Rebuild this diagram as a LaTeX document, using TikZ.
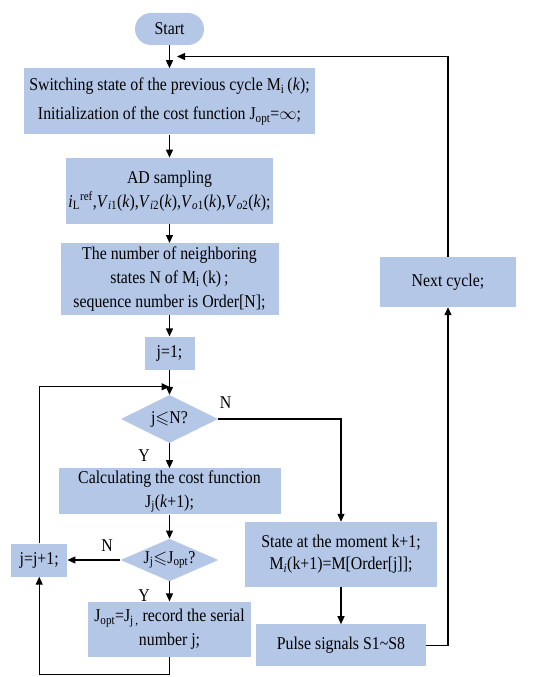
\documentclass[tikz,border=0pt]{standalone}
\usepackage{amssymb}
\usepackage{fontspec}
\setmainfont{Liberation Serif}[FakeStretch=0.88]
\usetikzlibrary{arrows.meta, positioning, shapes.geometric}
\definecolor{boxblue}{RGB}{180,199,231}

\begin{document}
\begin{tikzpicture}
	[
	x=1pt, y=-1pt,
	node distance=23pt and 53pt,
        startBox/.style={
            rectangle,
            rounded corners=16pt,
            fill=boxblue,
            minimum width=69pt,
            minimum height=32pt,
            font=\fontsize{18}{24}\selectfont
        },
        processBox/.style={
            rectangle,
            fill=boxblue,
            align=center,
            inner sep=2pt,
            font=\fontsize{18}{24}\selectfont
        },
        decisionBox/.style={
            diamond,
            fill=boxblue,
            aspect=2.3,
            inner sep=1pt,
            font=\fontsize{18}{24}\selectfont
        },
        branchLabel/.style={
            inner sep=2pt,
            font=\fontsize{18}{24}\selectfont
        },
        flowArrow/.style={
            -{Triangle[length=8pt,width=7pt]},
            line width=1.2pt
        }
    ]
    \useasboundingbox (0,0) rectangle (550,677);

    \node(start) [startBox] at (169.5,29) {Start};
    \node(init) [processBox, minimum width=291pt, minimum height=66pt, font=\fontsize{18}{29}\selectfont, below=of start] {Switching state of the previous cycle M\textsubscript{i}\,(\textit{k});\\Initialization of the cost function J\textsubscript{opt}=$\infty$;};
    \node(sampling) [processBox, minimum width=207pt, minimum height=66pt, below=of init] {AD sampling\\\textit{i}\textsubscript{L}\textsuperscript{ref},\textit{V}\textsubscript{\textit{i}1}(\textit{k}),\textit{V}\textsubscript{\textit{i}2}(\textit{k}),\textit{V}\textsubscript{\textit{o}1}(\textit{k}),\textit{V}\textsubscript{\textit{o}2}(\textit{k});};
    \node(neighbors) [processBox, minimum width=218pt, minimum height=72pt, below=19pt of sampling] {The number of neighboring\\states N of M\textsubscript{i}\,(k)\,;\\sequence number is Order[N];};
    \node(jOne) [processBox, minimum width=50pt, minimum height=33pt, below=21pt of neighbors] {j=1;};
    \node(checkJ) [decisionBox, minimum width=97pt, minimum height=48pt, below=25pt of jOne] {j$\leqslant$N?};
    \node(costFunction) [processBox, minimum width=222pt, minimum height=42pt, below=25pt of checkJ] {Calculating the cost function\\J\textsubscript{j}(\textit{k}+1);};
    \node(checkCost) [decisionBox, minimum width=97pt, minimum height=42pt, below=24pt of costFunction] {J\textsubscript{j}$\leqslant$J\textsubscript{opt}?};
    \node(record) [processBox, minimum width=163pt, minimum height=55pt, below=20pt of checkCost] {J\textsubscript{opt}=J\textsubscript{j\,,} record the serial\\number j;};
    \node(jNext) [processBox, minimum width=56pt, minimum height=33pt, left=of checkCost] {j=j+1;};

    \node(stateNext) [processBox, minimum width=192pt, minimum height=65pt, font=\fontsize{18}{22}\selectfont] at (341,554.5) {State at the moment k+1;\\M\textsubscript{\textit{i}}(k+1)=M[Order[j]];};
    \node(pulses) [processBox, minimum width=170pt, minimum height=42pt, below=37pt of stateNext] {Pulse signals S1\textasciitilde S8};
    \node(nextCycle) [processBox, minimum width=136pt, minimum height=50pt] at (448,282) {Next cycle;};

    \coordinate[below=17pt of jOne] (merge);
    \coordinate[below=18pt of record] (loopEnd);
    \coordinate (backIn) at (177,56.5);

    \draw[flowArrow] (start)--(init);
    \draw[flowArrow] (init)--(sampling);
    \draw[flowArrow] (sampling)--(neighbors);
    \draw[flowArrow] (neighbors)--(jOne);
    \draw[flowArrow] (jOne)--(checkJ);
    \draw[flowArrow] (checkJ)-- node(yesA) [branchLabel, left=17pt] {Y} (costFunction);
    \draw[flowArrow] (costFunction)--(checkCost);
    \draw[flowArrow] (checkCost)-- node(yesB) [branchLabel, pos=0.7, left=17pt] {Y} (record);
    \draw[flowArrow] (checkCost.west)-- node(noB) [branchLabel, pos=0.25, above=6pt] {N} (jNext.east);
    \draw[flowArrow] (jNext.north) |- (merge);
    \draw[flowArrow] (record.south)--(loopEnd) -| (jNext.south);
    \draw[flowArrow] (checkJ.east) -| node(noA) [branchLabel, pos=0.03, above=8pt] {N} (stateNext.north);
    \draw[flowArrow] (stateNext)--(pulses);
    \draw[flowArrow] (pulses.east) -| (nextCycle.south);
    \draw[flowArrow] (nextCycle.north) |- (backIn);
\end{tikzpicture}
\end{document}
